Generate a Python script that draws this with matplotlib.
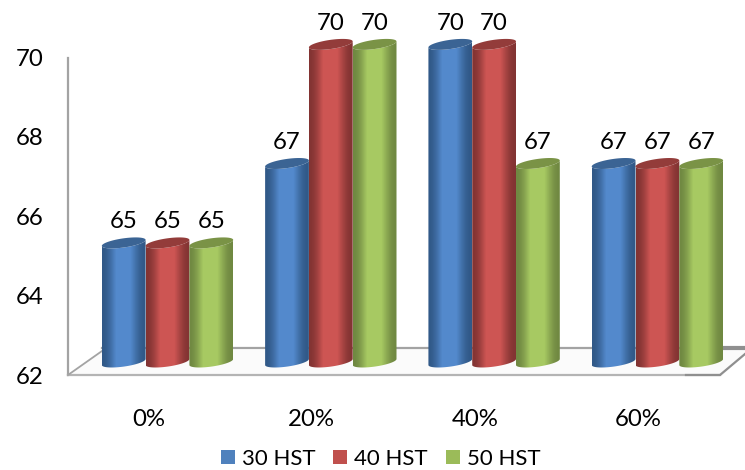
import matplotlib
matplotlib.use("Agg")
import matplotlib.pyplot as plt
import numpy as np
from matplotlib.colors import LinearSegmentedColormap
from matplotlib.patches import Patch, Polygon

plt.rcParams["font.family"] = ["Lato", "DejaVu Sans"]

# data
categories = ["0%", "20%", "40%", "60%"]
series_names = ["30 HST", "40 HST", "50 HST"]
hst_30 = [65, 67, 70, 67]
hst_40 = [65, 70, 70, 67]
hst_50 = [65, 70, 67, 67]
y_ticks = [62, 64, 66, 68, 70]

# style: dark edge, light middle, darker cap
legend_colors = ["#4f81bd", "#c0504d", "#9bbb59"]
edge_colors = ["#2f5684", "#7f3231", "#6d8540"]
mid_colors = ["#5389cc", "#cd5553", "#a7c962"]
cap_colors = ["#3b6494", "#933c3a", "#7a9346"]

# scale: pixels of the 745x470 canvas
W, H = 745, 470
PX_PER_UNIT = 39.7
BASE_PX = 362
GROUP_0 = 167.5
GROUP_STEP = 163.3
BAR_PX = 43.8
FONT = 17.3

sx = 1 / GROUP_STEP
sy = 1 / PX_PER_UNIT


def px_x(px):
    return (px - GROUP_0) * sx


def px_y(px):
    return 62 + (BASE_PX - px) * sy


fig = plt.figure(figsize=(W / 100, H / 100), dpi=100)
ax = fig.add_axes([0, 0, 1, 1])
ax.axis("off")

# floor and wall
grey = "#a3a3a3"
floor_x = [68, 102, 745, 745, 722, 68]
floor_y = [375, 351, 347, 352, 376, 376]
ax.add_patch(Polygon(np.c_[px_x(np.array(floor_x)), px_y(np.array(floor_y))],
                     fc="#fbfbfb", ec="none", zorder=1))
ax.plot(px_x(np.array([68, 68])), px_y(np.array([58, 375])), color=grey, lw=1.6, zorder=2)
ax.plot(px_x(np.array([68, 720])), px_y(np.array([375, 375])), color="#b4b4b4", lw=1.6, zorder=2)
ax.plot(px_x(np.array([68, 102])), px_y(np.array([375, 351])), color=grey, lw=1.3, zorder=2)
ax.plot(px_x(np.array([102, 745])), px_y(np.array([348, 348])), color=grey, lw=1.6, zorder=2)
ax.plot(px_x(np.array([686, 720, 745])), px_y(np.array([375, 375, 354])), color="#8f8f8f", lw=1.6, zorder=2)
ax.plot(px_x(np.array([722, 745])), px_y(np.array([348, 348])), color="#8f8f8f", lw=3, zorder=2)

# cylinders
t = np.linspace(0, 2 * np.pi, 80)
half = BAR_PX / 2
for s, values in enumerate([hst_30, hst_40, hst_50]):
    cmap = LinearSegmentedColormap.from_list(
        "c", [edge_colors[s], mid_colors[s], mid_colors[s], edge_colors[s]]
    )
    for i, value in enumerate(values):
        cx = GROUP_0 + GROUP_STEP * i + (s - 1) * BAR_PX
        top = px_y(BASE_PX) + value - 62
        ex = px_x(cx) + half * sx * np.cos(t)
        # tilted ellipse, right side higher
        ey = (3.0 * np.cos(t) + 4.6 * np.sin(t)) * sy

        lower = t[(t >= np.pi)]
        bx = px_x(cx) + half * sx * np.cos(lower)
        by = (3.0 * np.cos(lower) + 4.6 * np.sin(lower)) * sy
        body = np.r_[
            np.c_[bx, by + 62],
            np.c_[bx[::-1], by[::-1] + top],
        ]
        clip = Polygon(body, transform=ax.transData, fc="none", ec="none")
        ax.add_patch(clip)
        img = ax.imshow(
            np.array([[0, 0.45, 0.6, 1]]),
            cmap=cmap,
            extent=[px_x(cx - half), px_x(cx + half), 61.5, top + 1],
            aspect="auto",
            interpolation="bicubic",
            zorder=3 + s + i * 3,
        )
        img.set_clip_path(clip)
        ax.add_patch(Polygon(np.c_[ex, ey + top], fc=cap_colors[s], ec="none",
                             zorder=3 + s + i * 3))
        ax.text(px_x(cx), top + 21 * sy, str(value), ha="center", va="center",
                fontsize=FONT, color="black", zorder=30)

# tick labels sit on the front edge of the floor
for v in y_ticks:
    ax.text(px_x(30), v - 15 * sy, str(v), ha="center", va="center", fontsize=FONT)
for i, c in enumerate(categories):
    ax.text(i + px_x(148.5), px_y(419), c, ha="center", va="center", fontsize=FONT)

handles = [Patch(fc=c, ec="none", label=n) for c, n in zip(legend_colors, series_names)]
ax.legend(
    handles=handles, ncol=3, loc="center", frameon=False, fontsize=16,
    bbox_to_anchor=(380.5 / W, 1 - 459 / H), handlelength=0.63, handleheight=0.63,
    handletextpad=0.31, columnspacing=0.81, borderpad=0, borderaxespad=0,
)

ax.set_xlim(px_x(0), px_x(W))
ax.set_ylim(px_y(H), px_y(0))
fig.savefig("out.png", dpi=100)
